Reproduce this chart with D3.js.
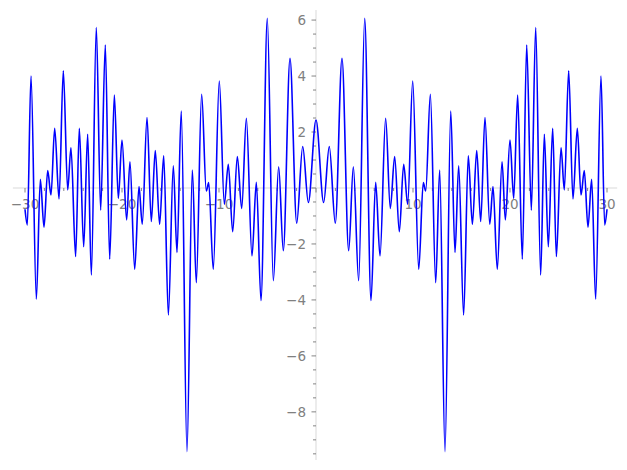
<!DOCTYPE html>
<html>
<head>
<meta charset="utf-8">
<script src="https://d3js.org/d3.v7.min.js"></script>
<style>
  body { margin: 0; background: #fff; }
  svg { display: block; }
</style>
</head>
<body>
<svg id="chart" width="627" height="470"></svg>
<script>
// local extrema of the curve (the plot is an even function)
var xValues = [
    -30, -29.76, -29.38, -28.83, -28.42, -28.04, -27.66, -27.32, -26.94, -26.49, -26.05,
    -25.6, -25.26, -24.78, -24.4, -23.95, -23.54, -23.16, -22.65, -22.2, -21.72, -21.27,
    -20.79, -20.38, -20, -19.52, -19.18, -18.69, -18.25, -17.91, -17.42, -16.98, -16.57,
    -16.12, -15.7, -15.22, -14.71, -14.33, -13.89, -13.3, -12.75, -12.34, -11.79, -11.31,
    -11.06, -10.59, -9.97, -9.45, -9.04, -8.59, -8.11, -7.66, -7.18, -6.6, -6.15, -5.67,
    -5.02, -4.4, -3.85, -3.37, -2.68, -1.99, -1.37, -0.79,
    0,
    0.79, 1.37, 1.99, 2.68, 3.37, 3.85, 4.4, 5.02, 5.67, 6.15, 6.6, 7.18, 7.66, 8.11,
    8.59, 9.04, 9.45, 9.97, 10.59, 11.06, 11.31, 11.79, 12.34, 12.75, 13.3, 13.89, 14.33,
    14.71, 15.22, 15.7, 16.12, 16.57, 16.98, 17.42, 17.91, 18.25, 18.69, 19.18, 19.52, 20,
    20.38, 20.79, 21.27, 21.72, 22.2, 22.65, 23.16, 23.54, 23.95, 24.4, 24.78, 25.26, 25.6,
    26.05, 26.49, 26.94, 27.32, 27.66, 28.04, 28.42, 28.83, 29.38, 29.76, 30
];
var yValues = [
    -0.76, -1.32, 4.0, -3.97, 0.31, -1.4, 0.62, -0.25, 2.13, -0.39, 4.19,
    -0.07, 1.44, -2.45, 2.13, -2.1, 1.92, -3.11, 5.73, -0.79, 5.11, -2.54,
    3.32, -0.37, 1.71, -1.14, 0.94, -2.9, 0.05, -1.29, 2.52, -1.2, 1.34,
    -1.3, 1.15, -4.54, 0.79, -2.3, 2.75, -9.42, 0.64, -3.38, 3.35, -0.11,
    0.19, -2.9, 3.82, -0.58, 0.85, -1.56, 1.12, -0.73, 2.49, -2.43, 0.2, -4.02,
    6.06, -3.31, 0.76, -2.24, 4.63, -1.26, 1.48, -0.52,
    2.43,
    -0.52, 1.48, -1.26, 4.63, -2.24, 0.76, -3.31, 6.06, -4.02, 0.2, -2.43, 2.49, -0.73, 1.12,
    -1.56, 0.85, -0.58, 3.82, -2.9, 0.19, -0.11, 3.35, -3.38, 0.64, -9.42, 2.75, -2.3,
    0.79, -4.54, 1.15, -1.3, 1.34, -1.2, 2.52, -1.29, 0.05, -2.9, 0.94, -1.14, 1.71,
    -0.37, 3.32, -2.54, 5.11, -0.79, 5.73, -3.11, 1.92, -2.1, 2.13, -2.45, 1.44, -0.07,
    4.19, -0.39, 2.13, -0.25, 0.62, -1.4, 0.31, -3.97, 4.0, -1.32, -0.76
];
var xMajorTicks = [-30, -20, -10, 10, 20, 30];
var yMajorTicks = [-8, -6, -4, -2, 2, 4, 6];

var svg = d3.select('#chart');

var x = d3.scaleLinear().domain([-30, 30]).range([25, 607]);
var y = d3.scaleLinear().domain([-9.72, 6.36]).range([460, 10]);

var axisColor = '#e6e6e6', tickColor = '#666', labelColor = '#808080';
var fmt = function (v) { return v < 0 ? '\u2212' + Math.abs(v) : String(v); };

// axis lines through the origin
svg.append('line')
    .attr('x1', x(-31.25)).attr('x2', x(31.05))
    .attr('y1', y(0)).attr('y2', y(0))
    .attr('stroke', axisColor).attr('stroke-width', 1.5);
svg.append('line')
    .attr('x1', x(0)).attr('x2', x(0))
    .attr('y1', y.range()[1]).attr('y2', y.range()[0])
    .attr('stroke', axisColor).attr('stroke-width', 1.5);

// x ticks
svg.selectAll('.xminor')
    .data(d3.range(-30, 31, 2))
    .enter().append('line')
    .attr('x1', function (d) { return x(d); })
    .attr('x2', function (d) { return x(d); })
    .attr('y1', y(0))
    .attr('y2', function (d) { return y(0) + (d % 10 === 0 ? 4.5 : 3); })
    .attr('stroke', tickColor).attr('stroke-width', 0.8);

svg.selectAll('.xlabel')
    .data(xMajorTicks)
    .enter().append('text')
    .attr('x', function (d) { return x(d); })
    .attr('y', y(0) + 21)
    .attr('text-anchor', 'middle')
    .attr('font-family', 'DejaVu Sans, sans-serif')
    .attr('font-size', 13.5)
    .attr('fill', labelColor)
    .text(fmt);

// y ticks
svg.selectAll('.yminor')
    .data(d3.range(-9.5, 6.01, 0.5))
    .enter().append('line')
    .attr('x1', x(0))
    .attr('x2', function (d) { return x(0) - (d % 2 === 0 ? 4.5 : 3); })
    .attr('y1', function (d) { return y(d); })
    .attr('y2', function (d) { return y(d); })
    .attr('stroke', tickColor).attr('stroke-width', 0.8);

svg.selectAll('.ylabel')
    .data(yMajorTicks)
    .enter().append('text')
    .attr('x', x(0) - 10)
    .attr('y', function (d) { return y(d); })
    .attr('dy', '0.36em')
    .attr('text-anchor', 'end')
    .attr('font-family', 'DejaVu Sans, sans-serif')
    .attr('font-size', 13.5)
    .attr('fill', labelColor)
    .text(fmt);

// the curve
var line = d3.line()
    .x(function (d) { return x(d); })
    .y(function (d, i) { return y(yValues[i]); })
    .curve(d3.curveMonotoneX);

svg.append('path')
    .attr('d', line(xValues))
    .attr('fill', 'none')
    .attr('stroke', '#0000ff')
    .attr('stroke-width', 1.6);
</script>
</body>
</html>
